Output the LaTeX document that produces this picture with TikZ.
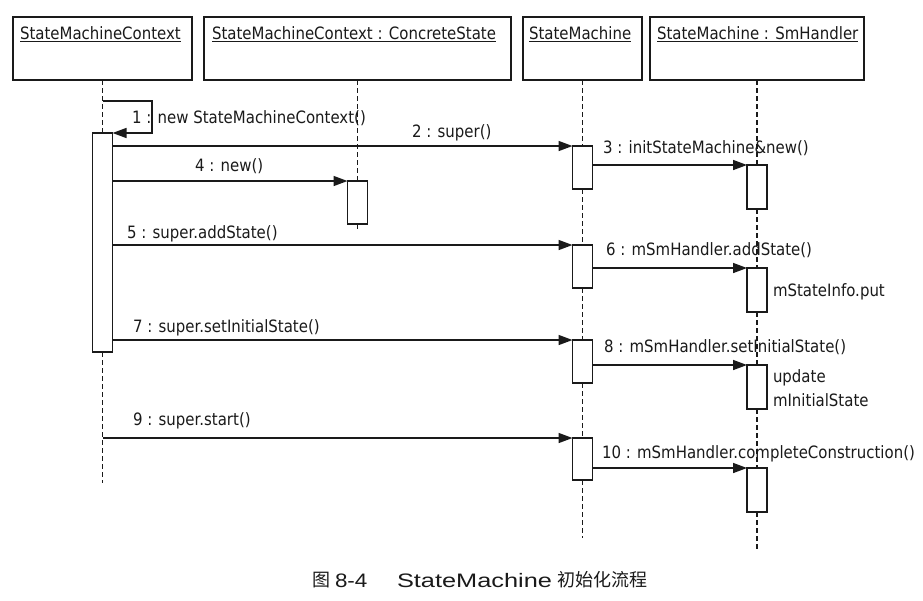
\documentclass[tikz,border=0pt]{standalone}
\usepackage{fontspec}
\usepackage{graphicx}
\setmainfont{DejaVu Sans}[FakeStretch=0.88]
\newfontfamily\cjkfont{Noto Sans CJK SC}
\newfontfamily\capfont{Liberation Sans}
\usetikzlibrary{arrows.meta}
\definecolor{ink}{HTML}{1A1A1A}
\begin{document}
\begin{tikzpicture}[x=1pt,y=-1pt,
  every node/.style={inner sep=0pt, outer sep=0pt},
  hdr/.style={draw=ink, line width=1.5pt, fill=white, anchor=north west, minimum height=63pt},
  act/.style={draw=ink, line width=1.5pt, fill=white, anchor=north, minimum width=20pt},
  life/.style={draw=ink, line width=1.5pt, dash pattern=on 5pt off 3pt},
  msg/.style={draw=ink, line width=1.5pt, -{Triangle[length=14pt,width=10pt]}},
  lbl/.style={anchor=base west, text=ink, font=\fontsize{17}{20}\selectfont},
  cjkcap/.style={anchor=base west, text=ink, font=\cjkfont\fontsize{18}{21}\selectfont},
  latcap/.style={anchor=base west, text=ink, font=\capfont\fontsize{19.5}{22}\selectfont},
]
\useasboundingbox[fill=white] (0,0) rectangle (923,600);

% header boxes
\node[hdr, minimum width=179pt] (h1) at (13,17) {};
\node[hdr, minimum width=307pt] (h2) at (204,17) {};
\node[hdr, minimum width=119pt] (h3) at (523,17) {};
\node[hdr, minimum width=214pt] (h4) at (650,17) {};
\node[lbl] (t1) at (20,39.5) {\underline{StateMachineContext}};
\node[lbl] (t2) at (212,39.5) {\underline{StateMachineContext : ConcreteState}};
\node[lbl] (t3) at (529,39.5) {\underline{StateMachine}};
\node[lbl] (t4) at (657,39.5) {\underline{StateMachine : SmHandler}};

% activations
\node[act, minimum height=219pt] (a1) at (h1.south |- 0,133) {};
\node[act, minimum height=43pt] (a2) at (h2.south |- 0,181) {};
\node[act, minimum height=43pt] (a3a) at (h3.south |- 0,146) {};
\node[act, minimum height=43pt] (a3b) at (h3.south |- 0,245) {};
\node[act, minimum height=43pt] (a3c) at (h3.south |- 0,340) {};
\node[act, minimum height=42pt] (a3d) at (h3.south |- 0,438) {};
\node[act, minimum height=44pt] (a4a) at (h4.south |- 0,165) {};
\node[act, minimum height=44pt] (a4b) at (h4.south |- 0,268) {};
\node[act, minimum height=44pt] (a4c) at (h4.south |- 0,365) {};
\node[act, minimum height=44pt] (a4d) at (h4.south |- 0,468) {};

% lifeline ends
\coordinate (e1) at (h1.south |- 0,483);
\coordinate (e2) at (h2.south |- 0,230);
\coordinate (e3) at (h3.south |- 0,538);
\coordinate (e4) at (h4.south |- 0,550);
\coordinate (s1) at (h1.south |- 0,101);

% lifelines
\draw[life] (h1.south) -- (a1.north);
\draw[life] (a1.south) -- (e1);
\draw[life] (h2.south) -- (a2.north);
\draw[life] (a2.south) -- (e2);
\draw[life] (h3.south) -- (a3a.north);
\draw[life] (a3a.south) -- (a3b.north);
\draw[life] (a3b.south) -- (a3c.north);
\draw[life] (a3c.south) -- (a3d.north);
\draw[life] (a3d.south) -- (e3);
\draw[life] (h4.south) -- (a4a.north);
\draw[life] (a4a.south) -- (a4b.north);
\draw[life] (a4b.south) -- (a4c.north);
\draw[life] (a4c.south) -- (a4d.north);
\draw[life] (a4d.south) -- (e4);

% messages
\draw[msg] (s1) -- ++(49.5,0) |- (a1.north east);
\draw[msg] (a1.east |- a3a.north) -- (a3a.north west);
\draw[msg] (a3a.east |- a4a.north) -- (a4a.north west);
\draw[msg] (a1.east |- a2.north) -- (a2.north west);
\draw[msg] (a1.east |- a3b.north) -- (a3b.north west);
\draw[msg] (a3b.east |- a4b.north) -- (a4b.north west);
\draw[msg] (a1.east |- a3c.north) -- (a3c.north west);
\draw[msg] (a3c.east |- a4c.north) -- (a4c.north west);
\draw[msg] (s1 |- a3d.north) -- (a3d.north west);
\draw[msg] (a3d.east |- a4d.north) -- (a4d.north west);

% labels
\node[lbl] (l1) at (132,123) {1 : new StateMachineContext()};
\node[lbl] (l2) at (412,137) {2 : super()};
\node[lbl] (l3) at (603,153) {3 : initStateMachine\&new()};
\node[lbl] (l4) at (195,171) {4 : new()};
\node[lbl] (l5) at (127,238) {5 : super.addState()};
\node[lbl] (l6) at (606,255) {6 : mSmHandler.addState()};
\node[lbl] (n6) at (773,296) {mStateInfo.put};
\node[lbl] (l7) at (133,332) {7 : super.setInitialState()};
\node[lbl] (l8) at (604,352) {8 : mSmHandler.setInitialState()};
\node[lbl] (n8a) at (773,382) {update};
\node[lbl] (n8b) at (773,406) {mInitialState};
\node[lbl] (l9) at (133,425) {9 : super.start()};
\node[lbl] (l10) at (602,458) {10 : mSmHandler.completeConstruction()};

% caption
\node[cjkcap] (c1) at (312,586) {图};
\node[latcap] (c2) at (335,587.5) {\scalebox{1.15}[1]{8-4}};
\node[latcap] (c3) at (397,587.5) {\scalebox{1.3}[1]{StateMachine}};
\node[cjkcap] (c4) at (557,586) {初始化流程};
\end{tikzpicture}
\end{document}
